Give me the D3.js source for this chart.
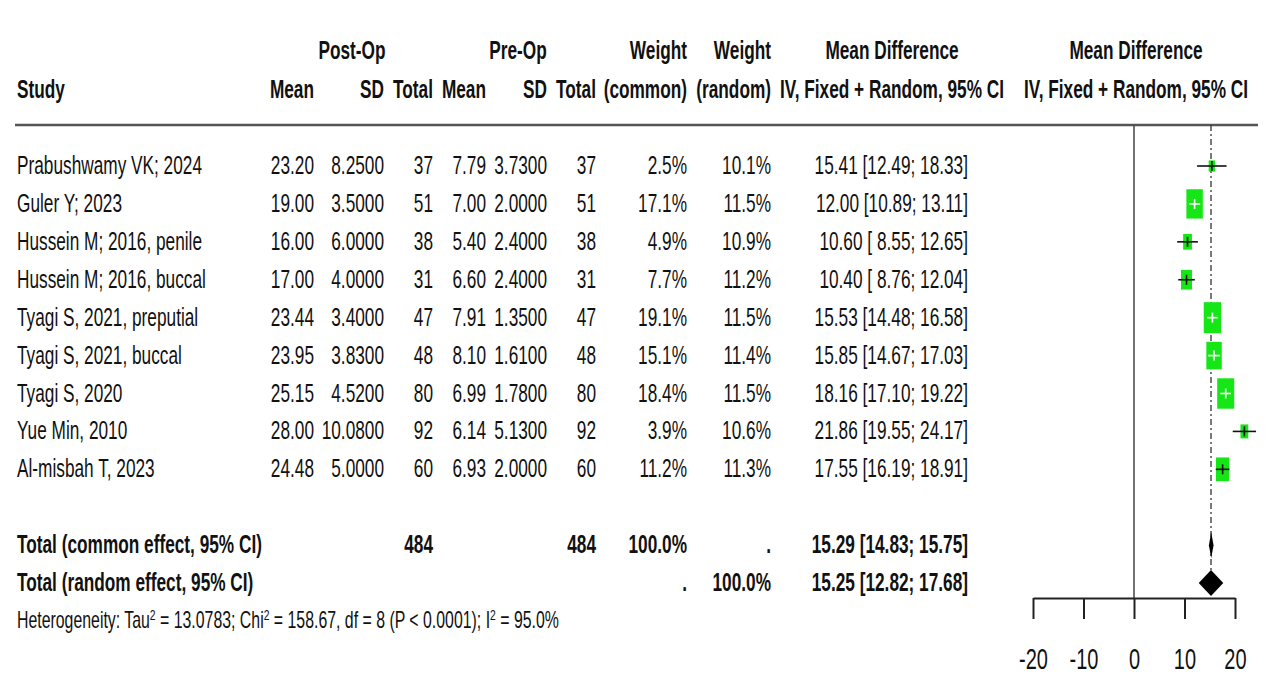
<!DOCTYPE html>
<html>
<head>
<meta charset="utf-8">
<script src="https://cdn.jsdelivr.net/npm/d3@7"></script>
<style>
  body { margin: 0; background: #fff; }
  text { font-family: "Liberation Sans", Arial, sans-serif; fill: #111; }
</style>
</head>
<body>
<script>
// study data
const studies = ["Prabushwamy VK; 2024", "Guler Y; 2023", "Hussein M; 2016, penile", "Hussein M; 2016, buccal",
    "Tyagi S, 2021, preputial", "Tyagi S, 2021, buccal", "Tyagi S, 2020", "Yue Min, 2010", "Al-misbah T, 2023"]
const postMean = [23.20, 19.00, 16.00, 17.00, 23.44, 23.95, 25.15, 28.00, 24.48]
const postSD = [8.25, 3.5, 6.0, 4.0, 3.4, 3.83, 4.52, 10.08, 5.0]
const postN = [37, 51, 38, 31, 47, 48, 80, 92, 60]
const preMean = [7.79, 7.00, 5.40, 6.60, 7.91, 8.10, 6.99, 6.14, 6.93]
const preSD = [3.73, 2.0, 2.4, 2.4, 1.35, 1.61, 1.78, 5.13, 2.0]
const preN = [37, 51, 38, 31, 47, 48, 80, 92, 60]
const wCommon = [2.5, 17.1, 4.9, 7.7, 19.1, 15.1, 18.4, 3.9, 11.2]
const wRandom = [10.1, 11.5, 10.9, 11.2, 11.5, 11.4, 11.5, 10.6, 11.3]
const md = [15.41, 12.00, 10.60, 10.40, 15.53, 15.85, 18.16, 21.86, 17.55]
const ciLo = [12.49, 10.89, 8.55, 8.76, 14.48, 14.67, 17.10, 19.55, 16.19]
const ciHi = [18.33, 13.11, 12.65, 12.04, 16.58, 17.03, 19.22, 24.17, 18.91]

// pooled results
const pooledNames = ["Total (common effect, 95% CI)", "Total (random effect, 95% CI)"]
const pooledMd = [15.29, 15.25]
const pooledLo = [14.83, 12.82]
const pooledHi = [15.75, 17.68]
const totalPost = 484
const totalPre = 484
const xTicks = [-20, -10, 0, 10, 20]

const SX = 0.69 // text is squashed sideways in the original
const f2 = d3.format(".2f"), f4 = d3.format(".4f"), f1 = d3.format(".1f")

const svg = d3.select("body").append("svg")
    .attr("width", 1270)
    .attr("height", 695)

// x scale of the forest panel, y scale for the rows
const x = d3.scaleLinear().domain([-20, 20]).range([1033, 1235])
const y = d3.scaleLinear().domain([0, 12]).range([174, 629])
const boxH = d3.scaleSqrt().domain([0, 19.1]).range([0, 31])

function txt(s, tx, ty, anchor, size, bold) {
    return svg.append("text")
        .attr("transform", `translate(${tx},${ty}) scale(${SX},1)`)
        .attr("text-anchor", anchor)
        .style("font-size", size + "px")
        .style("font-weight", bold ? "bold" : "normal")
        .text(s)
}

// header
txt("Post-Op", 352, 59, "middle", 25, true)
txt("Pre-Op", 518, 59, "middle", 25, true)
txt("Weight", 687, 59, "end", 25, true)
txt("Weight", 771, 59, "end", 25, true)
txt("Mean Difference", 892, 59, "middle", 25, true)
txt("Mean Difference", 1136, 59, "middle", 25, true)
txt("Study", 17, 98, "start", 25, true)
txt("Mean", 314, 98, "end", 25, true)
txt("SD", 384, 98, "end", 25, true)
txt("Total", 433, 98, "end", 25, true)
txt("Mean", 486, 98, "end", 25, true)
txt("SD", 547, 98, "end", 25, true)
txt("Total", 596, 98, "end", 25, true)
txt("(common)", 687, 98, "end", 25, true)
txt("(random)", 771, 98, "end", 25, true)
txt("IV, Fixed + Random, 95% CI", 892, 98, "middle", 25, true)
txt("IV, Fixed + Random, 95% CI", 1136, 98, "middle", 25, true)

svg.append("line")
    .attr("x1", 15).attr("x2", 1258)
    .attr("y1", 125).attr("y2", 125)
    .attr("stroke", "#555").attr("stroke-width", 2.5)

// study rows
const ciText = (m, lo, hi) => `${f2(m)} [${lo < 10 ? " " : ""}${f2(lo)}; ${f2(hi)}]`
studies.forEach((s, i) => {
    const ty = y(i)
    txt(s, 17, ty, "start", 25)
    txt(f2(postMean[i]), 314, ty, "end", 25)
    txt(f4(postSD[i]), 384, ty, "end", 25)
    txt(postN[i], 433, ty, "end", 25)
    txt(f2(preMean[i]), 486, ty, "end", 25)
    txt(f4(preSD[i]), 547, ty, "end", 25)
    txt(preN[i], 596, ty, "end", 25)
    txt(f1(wCommon[i]) + "%", 687, ty, "end", 25)
    txt(f1(wRandom[i]) + "%", 771, ty, "end", 25)
    txt(ciText(md[i], ciLo[i], ciHi[i]), 968, ty, "end", 25)
})

// totals
txt(pooledNames[0], 17, y(10), "start", 25, true)
txt(totalPost, 433, y(10), "end", 25, true)
txt(totalPre, 596, y(10), "end", 25, true)
txt("100.0%", 687, y(10), "end", 25, true)
txt(".", 771, y(10), "end", 25, true)
txt(ciText(pooledMd[0], pooledLo[0], pooledHi[0]), 968, y(10), "end", 25, true)
txt(pooledNames[1], 17, y(11), "start", 25, true)
txt(".", 687, y(11), "end", 25, true)
txt("100.0%", 771, y(11), "end", 25, true)
txt(ciText(pooledMd[1], pooledLo[1], pooledHi[1]), 968, y(11), "end", 25, true)

// heterogeneity with superscripts
const het = svg.append("text")
    .attr("transform", `translate(17,${y(12) - 1}) scale(${SX},1)`)
    .style("font-size", "23px")
const hetParts = [["Heterogeneity: Tau", 0], ["2", 1], [" = 13.0783; Chi", 0], ["2", 1],
    [" = 158.67, df = 8 (P < 0.0001); I", 0], ["2", 1], [" = 95.0%", 0]]
hetParts.forEach(p => {
    het.append("tspan")
        .attr("baseline-shift", p[1] ? "super" : null)
        .style("font-size", p[1] ? "15px" : null)
        .text(p[0])
})

// forest panel
const rowC = i => y(i) - 8
svg.append("line")
    .attr("x1", x(0)).attr("x2", x(0))
    .attr("y1", 125).attr("y2", 598)
    .attr("stroke", "#444").attr("stroke-width", 1.5)
svg.append("line")
    .attr("x1", x(pooledMd[1])).attr("x2", x(pooledMd[1]))
    .attr("y1", 125).attr("y2", rowC(11) - 13)
    .attr("stroke", "#333").attr("stroke-width", 1.3)
    .attr("stroke-dasharray", "6,3,2,3")

studies.forEach((s, i) => {
    const h = boxH(wCommon[i]), w = h * 0.56
    const cx = x(md[i]), cy = rowC(i)
    svg.append("rect")
        .attr("x", cx - w / 2).attr("y", cy - h / 2)
        .attr("width", w).attr("height", h)
        .attr("fill", "#15e615")
    // CI inside the box is drawn white
    const inside = x(ciLo[i]) >= cx - w / 2 && x(ciHi[i]) <= cx + w / 2
    const col = inside ? "#fff" : "#111"
    svg.append("line")
        .attr("x1", x(ciLo[i])).attr("x2", x(ciHi[i]))
        .attr("y1", cy).attr("y2", cy)
        .attr("stroke", col).attr("stroke-width", 1.6)
    svg.append("line")
        .attr("x1", cx).attr("x2", cx)
        .attr("y1", cy - 5).attr("y2", cy + 5)
        .attr("stroke", col).attr("stroke-width", 1.6)
})

// diamonds
pooledMd.forEach((m, k) => {
    const cy = rowC(10 + k)
    const hh = 13
    svg.append("path")
        .attr("d", `M${x(pooledLo[k])},${cy}L${x(m)},${cy - hh}L${x(pooledHi[k])},${cy}L${x(m)},${cy + hh}Z`)
        .attr("fill", "#000")
})

// axis
const ax = svg.append("g")
    .attr("transform", "translate(0,598)")
    .call(d3.axisBottom(x).tickValues(xTicks).tickSize(21).tickSizeOuter(0).tickFormat(d => String(d)))
ax.select(".domain").attr("stroke", "#222").attr("stroke-width", 2)
ax.selectAll(".tick line").attr("stroke", "#222").attr("stroke-width", 2)
ax.selectAll(".tick text")
    .attr("y", null).attr("dy", null)
    .attr("transform", `translate(0,71) scale(${SX},1)`)
    .style("font-size", "29px")
    .style("font-family", "'Liberation Sans', Arial, sans-serif")
    .attr("fill", "#111")
</script>
</body>
</html>
